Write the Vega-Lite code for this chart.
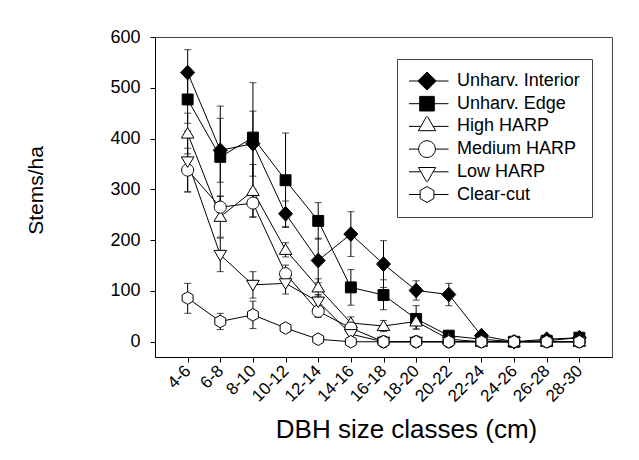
{
  "$schema": "https://vega.github.io/schema/vega-lite/v6.json",
  "width": 457,
  "height": 320,
  "autosize": {"type": "none"},
  "padding": {"left": 155, "top": 37, "right": 27, "bottom": 103},
  "background": "white",
  "config": {
    "font": "Liberation Sans",
    "view": {"stroke": "#444", "strokeWidth": 1},
    "axis": {"domainColor": "black", "tickColor": "black", "labelColor": "black", "titleColor": "black", "grid": false, "labelFont": "Liberation Sans", "titleFont": "Liberation Sans", "titleFontWeight": "normal", "tickSize": 5, "domainWidth": 1, "tickWidth": 1},
    "axisY": {"titleFontSize": 21, "titleAngle": -90, "titleX": -113, "titleY": 153, "titleBaseline": "alphabetic", "titleAlign": "center", "labelFontSize": 18, "labelPadding": 10},
    "legend": {
      "orient": "none", "legendX": 242, "legendY": 22,
      "strokeColor": "#444", "fillColor": "white", "padding": 12,
      "labelFontSize": 18, "labelFont": "Liberation Sans", "labelColor": "black",
      "symbolSize": 1849, "symbolOffset": -4, "labelOffset": 8,
      "clipHeight": 20, "rowPadding": 2.7,
      "symbolStrokeColor": "black", "symbolStrokeWidth": 1
    }
  },
  "data": {
    "values": [
      {"series": "Unharv. Interior", "dbh": "4-6", "mean": 530, "lo": 485, "hi": 575},
      {"series": "Unharv. Interior", "dbh": "6-8", "mean": 377, "lo": 314, "hi": 440},
      {"series": "Unharv. Interior", "dbh": "8-10", "mean": 390, "lo": 326, "hi": 454},
      {"series": "Unharv. Interior", "dbh": "10-12", "mean": 252, "lo": 227, "hi": 277},
      {"series": "Unharv. Interior", "dbh": "12-14", "mean": 160, "lo": 116, "hi": 204},
      {"series": "Unharv. Interior", "dbh": "14-16", "mean": 212, "lo": 168, "hi": 256},
      {"series": "Unharv. Interior", "dbh": "16-18", "mean": 153, "lo": 107, "hi": 199},
      {"series": "Unharv. Interior", "dbh": "18-20", "mean": 101, "lo": 82, "hi": 120},
      {"series": "Unharv. Interior", "dbh": "20-22", "mean": 93, "lo": 71, "hi": 115},
      {"series": "Unharv. Interior", "dbh": "22-24", "mean": 12, "lo": 5, "hi": 19},
      {"series": "Unharv. Interior", "dbh": "24-26", "mean": 0},
      {"series": "Unharv. Interior", "dbh": "26-28", "mean": 5, "lo": 0, "hi": 10},
      {"series": "Unharv. Interior", "dbh": "28-30", "mean": 8, "lo": 2, "hi": 14},
      {"series": "Unharv. Edge", "dbh": "4-6", "mean": 477, "lo": 430, "hi": 524},
      {"series": "Unharv. Edge", "dbh": "6-8", "mean": 364, "lo": 264, "hi": 464},
      {"series": "Unharv. Edge", "dbh": "8-10", "mean": 402, "lo": 294, "hi": 510},
      {"series": "Unharv. Edge", "dbh": "10-12", "mean": 318, "lo": 225, "hi": 411},
      {"series": "Unharv. Edge", "dbh": "12-14", "mean": 238, "lo": 202, "hi": 274},
      {"series": "Unharv. Edge", "dbh": "14-16", "mean": 107, "lo": 72, "hi": 142},
      {"series": "Unharv. Edge", "dbh": "16-18", "mean": 92, "lo": 63, "hi": 122},
      {"series": "Unharv. Edge", "dbh": "18-20", "mean": 45, "lo": 25, "hi": 71},
      {"series": "Unharv. Edge", "dbh": "20-22", "mean": 12, "lo": 5, "hi": 19},
      {"series": "Unharv. Edge", "dbh": "22-24", "mean": 5, "lo": 0, "hi": 10},
      {"series": "Unharv. Edge", "dbh": "24-26", "mean": 0},
      {"series": "Unharv. Edge", "dbh": "26-28", "mean": 2},
      {"series": "Unharv. Edge", "dbh": "28-30", "mean": 8, "lo": 2, "hi": 14},
      {"series": "High HARP", "dbh": "4-6", "mean": 410, "lo": 370, "hi": 450},
      {"series": "High HARP", "dbh": "6-8", "mean": 246, "lo": 206, "hi": 286},
      {"series": "High HARP", "dbh": "8-10", "mean": 297, "lo": 245, "hi": 349},
      {"series": "High HARP", "dbh": "10-12", "mean": 181, "lo": 167, "hi": 195},
      {"series": "High HARP", "dbh": "12-14", "mean": 107, "lo": 90, "hi": 124},
      {"series": "High HARP", "dbh": "14-16", "mean": 37, "lo": 25, "hi": 49},
      {"series": "High HARP", "dbh": "16-18", "mean": 31, "lo": 20, "hi": 42},
      {"series": "High HARP", "dbh": "18-20", "mean": 40, "lo": 25, "hi": 55},
      {"series": "High HARP", "dbh": "20-22", "mean": 5},
      {"series": "High HARP", "dbh": "22-24", "mean": 0},
      {"series": "High HARP", "dbh": "24-26", "mean": 0},
      {"series": "High HARP", "dbh": "26-28", "mean": 0},
      {"series": "High HARP", "dbh": "28-30", "mean": 0},
      {"series": "Medium HARP", "dbh": "4-6", "mean": 338, "lo": 295, "hi": 381},
      {"series": "Medium HARP", "dbh": "6-8", "mean": 265, "lo": 243, "hi": 287},
      {"series": "Medium HARP", "dbh": "8-10", "mean": 273, "lo": 246, "hi": 300},
      {"series": "Medium HARP", "dbh": "10-12", "mean": 134, "lo": 117, "hi": 151},
      {"series": "Medium HARP", "dbh": "12-14", "mean": 60, "lo": 48, "hi": 72},
      {"series": "Medium HARP", "dbh": "14-16", "mean": 27, "lo": 20, "hi": 34},
      {"series": "Medium HARP", "dbh": "16-18", "mean": 0},
      {"series": "Medium HARP", "dbh": "18-20", "mean": 0},
      {"series": "Medium HARP", "dbh": "20-22", "mean": 0},
      {"series": "Medium HARP", "dbh": "22-24", "mean": 0},
      {"series": "Medium HARP", "dbh": "24-26", "mean": 0},
      {"series": "Medium HARP", "dbh": "26-28", "mean": 0},
      {"series": "Medium HARP", "dbh": "28-30", "mean": 0},
      {"series": "Low HARP", "dbh": "4-6", "mean": 355, "lo": 295, "hi": 415},
      {"series": "Low HARP", "dbh": "6-8", "mean": 171, "lo": 138, "hi": 204},
      {"series": "Low HARP", "dbh": "8-10", "mean": 112, "lo": 86, "hi": 138},
      {"series": "Low HARP", "dbh": "10-12", "mean": 115, "lo": 94, "hi": 136},
      {"series": "Low HARP", "dbh": "12-14", "mean": 79, "lo": 65, "hi": 93},
      {"series": "Low HARP", "dbh": "14-16", "mean": 15, "lo": 8, "hi": 22},
      {"series": "Low HARP", "dbh": "16-18", "mean": 0},
      {"series": "Low HARP", "dbh": "18-20", "mean": 0},
      {"series": "Low HARP", "dbh": "20-22", "mean": 0},
      {"series": "Low HARP", "dbh": "22-24", "mean": 0},
      {"series": "Low HARP", "dbh": "24-26", "mean": 0},
      {"series": "Low HARP", "dbh": "26-28", "mean": 0},
      {"series": "Low HARP", "dbh": "28-30", "mean": 0},
      {"series": "Clear-cut", "dbh": "4-6", "mean": 86, "lo": 56, "hi": 115},
      {"series": "Clear-cut", "dbh": "6-8", "mean": 40, "lo": 24, "hi": 56},
      {"series": "Clear-cut", "dbh": "8-10", "mean": 53, "lo": 26, "hi": 80},
      {"series": "Clear-cut", "dbh": "10-12", "mean": 27},
      {"series": "Clear-cut", "dbh": "12-14", "mean": 5},
      {"series": "Clear-cut", "dbh": "14-16", "mean": 0},
      {"series": "Clear-cut", "dbh": "16-18", "mean": 0},
      {"series": "Clear-cut", "dbh": "18-20", "mean": 0},
      {"series": "Clear-cut", "dbh": "20-22", "mean": 0},
      {"series": "Clear-cut", "dbh": "22-24", "mean": 0},
      {"series": "Clear-cut", "dbh": "24-26", "mean": 0},
      {"series": "Clear-cut", "dbh": "26-28", "mean": 0},
      {"series": "Clear-cut", "dbh": "28-30", "mean": 0}
    ]
  },
  "encoding": {
    "x": {
      "field": "dbh",
      "type": "nominal",
      "scale": {"type": "point", "padding": 1, "domain": ["4-6", "6-8", "8-10", "10-12", "12-14", "14-16", "16-18", "18-20", "20-22", "22-24", "24-26", "26-28", "28-30"]},
      "axis": {"title": "DBH size classes (cm)", "labelAngle": -45, "labelAlign": "right", "labelBaseline": "middle", "labelFontSize": 17, "labelPadding": 6, "titleFontSize": 26, "titleX": 251, "titleY": 80, "titleBaseline": "alphabetic", "titleAlign": "center"}
    },
    "y": {"field": "mean", "type": "quantitative", "scale": {"domain": [-30, 600], "nice": false, "zero": false}, "axis": {"values": [0, 100, 200, 300, 400, 500, 600], "title": "Stems/ha", "titleFontSize": 21, "labelFontSize": 18, "labelPadding": 10, "titleAngle": -90, "titleX": -113, "titleY": 153, "titleBaseline": "alphabetic", "titleAlign": "center"}}
  },
  "resolve": {
    "scale": {"shape": "independent", "fill": "independent", "stroke": "independent"},
    "legend": {"shape": "independent", "fill": "independent", "stroke": "independent"}
  },
  "layer": [
    {
      "mark": {"type": "rule", "color": "black", "strokeWidth": 1},
      "encoding": {
        "y": {"field": "lo", "type": "quantitative", "scale": {"domain": [-30, 600], "nice": false, "zero": false}, "axis": {"values": [0, 100, 200, 300, 400, 500, 600], "title": "Stems/ha", "titleFontSize": 21, "labelFontSize": 18, "labelPadding": 10, "titleAngle": -90, "titleX": -113, "titleY": 153, "titleBaseline": "alphabetic", "titleAlign": "center"}},
        "y2": {"field": "hi"}
      }
    },
    {
      "mark": {"type": "tick", "color": "black", "size": 7, "thickness": 1, "orient": "horizontal"},
      "encoding": {
        "y": {"field": "lo", "type": "quantitative", "scale": {"domain": [-30, 600], "nice": false, "zero": false}, "axis": {"values": [0, 100, 200, 300, 400, 500, 600], "title": "Stems/ha", "titleFontSize": 21, "labelFontSize": 18, "labelPadding": 10, "titleAngle": -90, "titleX": -113, "titleY": 153, "titleBaseline": "alphabetic", "titleAlign": "center"}}
      }
    },
    {
      "mark": {"type": "tick", "color": "black", "size": 7, "thickness": 1, "orient": "horizontal"},
      "encoding": {
        "y": {"field": "hi", "type": "quantitative", "scale": {"domain": [-30, 600], "nice": false, "zero": false}, "axis": {"values": [0, 100, 200, 300, 400, 500, 600], "title": "Stems/ha", "titleFontSize": 21, "labelFontSize": 18, "labelPadding": 10, "titleAngle": -90, "titleX": -113, "titleY": 153, "titleBaseline": "alphabetic", "titleAlign": "center"}}
      }
    },
    {
      "mark": {"type": "line", "color": "black", "strokeWidth": 1},
      "encoding": {
        "detail": {"field": "series", "type": "nominal"},
        "order": {"value": null}
      }
    },
    {
      "mark": {"type": "point", "filled": true, "stroke": "black", "strokeWidth": 1, "size": 196, "opacity": 1},
      "encoding": {
        "shape": {
          "field": "series",
          "type": "nominal",
          "scale": {
            "domain": ["Unharv. Interior", "Unharv. Edge", "High HARP", "Medium HARP", "Low HARP", "Clear-cut"],
            "range": [
              "M0,-1.05L1,0L0,1.05L-1,0Z",
              "M-0.78,-0.78H0.78V0.78H-0.78Z",
              "M0,-0.85L0.9,0.65L-0.9,0.65Z",
              "M0.86,0A0.86,0.86 0 1,1 -0.86,0A0.86,0.86 0 1,1 0.86,0Z",
              "M0,0.85L0.9,-0.65L-0.9,-0.65Z",
              "M0,-0.9L0.78,-0.45L0.78,0.45L0,0.9L-0.78,0.45L-0.78,-0.45Z"
            ]
          },
          "legend": null
        },
        "fill": {
          "field": "series",
          "type": "nominal",
          "scale": {
            "domain": ["Unharv. Interior", "Unharv. Edge", "High HARP", "Medium HARP", "Low HARP", "Clear-cut"],
            "range": ["black", "black", "white", "white", "white", "white"]
          },
          "legend": null
        }
      }
    },
    {
      "transform": [{"filter": "false"}],
      "mark": {"type": "point", "filled": true, "stroke": "black", "strokeWidth": 1, "opacity": 1},
      "encoding": {
        "shape": {
          "field": "series",
          "type": "nominal",
          "scale": {
            "domain": ["Unharv. Interior", "Unharv. Edge", "High HARP", "Medium HARP", "Low HARP", "Clear-cut"],
            "range": [
              "M-1,0L-0.43,0M0.43,0L1,0M0,-0.42L0.43,0L0,0.42L-0.43,0Z",
              "M-1,0L-0.34,0M0.34,0L1,0M-0.34,-0.34L0.34,-0.34L0.34,0.34L-0.34,0.34Z",
              "M-1,0L-0.29,0M0.29,0L1,0M0,-0.5L0.4,0.2L-0.4,0.2Z",
              "M-1,0L-0.39,0M0.39,0L1,0M0.39,0A0.39,0.39 0 1,1 -0.39,0A0.39,0.39 0 1,1 0.39,0Z",
              "M-1,0L-0.29,0M0.29,0L1,0M0,0.5L0.4,-0.2L-0.4,-0.2Z",
              "M-1,0L-0.32,0M0.32,0L1,0M0,-0.37L0.32,-0.185L0.32,0.185L0,0.37L-0.32,0.185L-0.32,-0.185Z"
            ]
          },
          "legend": {"title": null}
        },
        "fill": {
          "field": "series",
          "type": "nominal",
          "scale": {
            "domain": ["Unharv. Interior", "Unharv. Edge", "High HARP", "Medium HARP", "Low HARP", "Clear-cut"],
            "range": ["black", "black", "white", "white", "white", "white"]
          },
          "legend": {"title": null}
        },
        "stroke": {
          "field": "series",
          "type": "nominal",
          "scale": {
            "domain": ["Unharv. Interior", "Unharv. Edge", "High HARP", "Medium HARP", "Low HARP", "Clear-cut"],
            "range": ["black", "black", "black", "black", "black", "black"]
          },
          "legend": {"title": null}
        }
      }
    }
  ]
}
